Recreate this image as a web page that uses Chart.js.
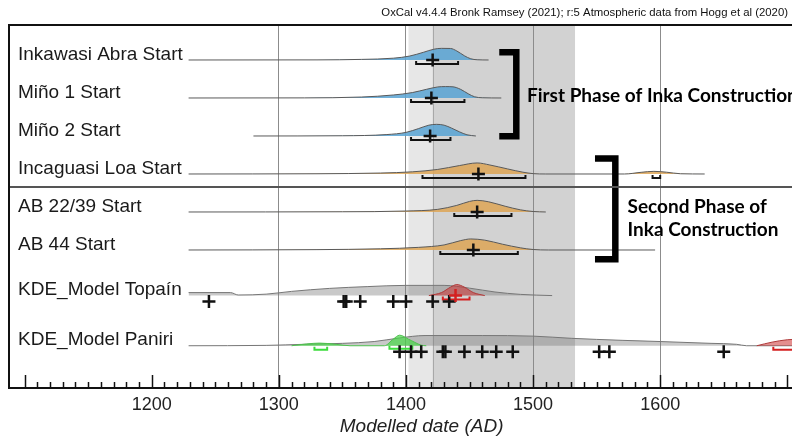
<!DOCTYPE html>
<html lang="en">
<head>
<meta charset="utf-8">
<script src="https://cdn.jsdelivr.net/npm/chart.js"></script>
<style>
  html, body { margin: 0; padding: 0; background: #fff; }
  #wrap { width: 792px; height: 436px; }
</style>
</head>
<body>
<div id="wrap"><canvas id="oxcalChart" width="792" height="436"></canvas></div>
<script>
  // --- data ---
  const rowLabels = ['Inkawasi Abra Start', 'Miño 1 Start', 'Miño 2 Start', 'Incaguasi Loa Start',
                     'AB 22/39 Start', 'AB 44 Start', 'KDE_Model Topaín', 'KDE_Model Paniri'];
  const tickYears = [1200, 1300, 1400, 1500, 1600];
  const gridYears = [1300, 1400, 1500, 1600];
  const bandOuter = [1402, 1533];
  const bandInner = [1421, 1533];

  // [year, relative density]
  const inkawasiAbra = [[1229,0],[1330,0.01],[1365,0.05],[1390,0.15],[1403,0.33],[1414,0.65],[1422,0.9],[1428,0.97],[1435,0.96],[1440,0.75],[1446,0.35],[1451,0.1],[1456,0.02],[1465,0]];
  const mino1 = [[1229,0],[1320,0.01],[1365,0.08],[1390,0.25],[1405,0.45],[1416,0.72],[1425,0.92],[1431,0.95],[1437,0.93],[1443,0.72],[1449,0.35],[1454,0.1],[1460,0.02],[1475,0]];
  const mino2 = [[1280,0],[1350,0.02],[1385,0.12],[1400,0.3],[1410,0.62],[1418,0.9],[1424,0.97],[1430,0.9],[1436,0.65],[1442,0.35],[1448,0.1],[1455,0]];
  const incaguasiLoa = [[1229,0],[1330,0.02],[1380,0.08],[1405,0.18],[1425,0.38],[1442,0.7],[1456,0.92],[1466,0.75],[1480,0.42],[1492,0.15],[1500,0.03],[1510,0],[1572,0],[1585,0.14],[1595,0.22],[1605,0.15],[1616,0.02],[1635,0]];
  const ab2239 = [[1229,0],[1350,0.02],[1400,0.08],[1425,0.22],[1440,0.55],[1450,0.88],[1456,0.97],[1465,0.85],[1478,0.48],[1490,0.18],[1500,0.04],[1510,0]];
  const ab44 = [[1229,0],[1330,0.03],[1380,0.1],[1410,0.22],[1430,0.42],[1443,0.78],[1451,0.92],[1462,0.82],[1476,0.48],[1490,0.18],[1500,0.04],[1512,0],[1596,0]];
  const topainKde = [[1229,0.25],[1262,0.25],[1268,0.05],[1290,0.12],[1310,0.35],[1340,0.6],[1370,0.75],[1400,0.85],[1430,0.85],[1450,0.62],[1470,0.3],[1490,0.1],[1515,0]];
  const topainRed = [[1418,0],[1428,0.25],[1435,0.7],[1440,0.92],[1446,0.7],[1453,0.25],[1462,0]];
  const paniriKde = [[1229,0],[1290,0.03],[1320,0.12],[1350,0.2],[1375,0.35],[1395,0.65],[1415,0.85],[1460,0.85],[1500,0.8],[1530,0.62],[1570,0.45],[1600,0.35],[1640,0.2],[1660,0.12],[1668,0],[1710,0]];
  const paniriGreen = [[1310,0],[1322,0.15],[1332,0.22],[1345,0.12],[1356,0],[1383,0],[1390,0.55],[1395,0.88],[1402,0.55],[1412,0.05],[1416,0]];
  const paniriRed = [[1676,0],[1688,0.3],[1700,0.5],[1710,0.55]];

  const startMedians = [1421, 1420, 1419, 1457, 1456, 1453];
  const rangeFrom = [1408, 1404, 1404, 1413, 1438, 1427];
  const rangeTo = [1441, 1446, 1435, 1494, 1483, 1488];
  const topainDates = [1245, 1351, 1353, 1364, 1390, 1400, 1421, 1434];
  const paniriDates = [1395, 1404, 1412, 1429, 1431, 1446, 1460, 1471, 1484, 1552, 1560, 1650];

  // --- layout (row positions in y units, one unit = one normal row) ---
  const rowPos = [0, 1, 2, 3, 4, 5, 6.2, 7.52];
  const peak = 0.316;      // height of density 1
  const barOff = 0.105;    // range bar below baseline
  const barTick = 0.08;
  const dateOff = 0.158;   // date crosses below the KDE line

  const blueFill = 'rgba(88,163,212,0.85)';
  const orangeFill = 'rgba(222,166,86,0.85)';
  const greyFill = 'rgba(120,120,120,0.4)';
  const redFill = 'rgba(205,50,50,0.55)';
  const greenFill = 'rgba(70,215,70,0.7)';

  function dist(points, row, fill, line, order) {
    return {
      type: 'line',
      data: points.map(p => ({ x: p[0], y: rowPos[row] - p[1] * peak })),
      backgroundColor: fill,
      borderColor: line,
      borderWidth: 1,
      fill: { value: rowPos[row] },
      pointRadius: 0,
      cubicInterpolationMode: 'monotone',
      order: order
    };
  }

  function rangeBar(a, b, row, color, off) {
    const yb = rowPos[row] + (off === undefined ? barOff : off);
    return {
      type: 'line',
      data: [{ x: a, y: yb - barTick }, { x: a, y: yb }, { x: b, y: yb }, { x: b, y: yb - barTick }],
      borderColor: color,
      borderWidth: 2,
      pointRadius: 0,
      fill: false,
      order: 1
    };
  }

  function crosses(pts, color, order) {
    return {
      type: 'scatter',
      data: pts,
      pointStyle: 'cross',
      pointRadius: 6.5,
      borderColor: color,
      borderWidth: 2.5,
      backgroundColor: color,
      order: order
    };
  }

  function bracket(x0, x1, y0, y1) {
    return {
      type: 'line',
      data: [{ x: x0, y: y0 }, { x: x1, y: y0 }, { x: x1, y: y1 }, { x: x0, y: y1 }],
      borderColor: '#000',
      borderWidth: 6.5,
      borderJoinStyle: 'miter',
      borderCapStyle: 'butt',
      pointRadius: 0,
      fill: false,
      order: 0
    };
  }

  const datasets = [];
  const starts = [inkawasiAbra, mino1, mino2, incaguasiLoa, ab2239, ab44];
  starts.forEach(function (d, i) {
    datasets.push(dist(d, i, i < 3 ? blueFill : orangeFill, '#5a5a5a', 3));
    datasets.push(rangeBar(rangeFrom[i], rangeTo[i], i, '#111'));
  });
  datasets.push(rangeBar(1594, 1600, 3, '#111'));
  datasets.push(crosses(startMedians.map((m, i) => ({ x: m, y: rowPos[i] })), '#111', 0));

  datasets.push(dist(topainKde, 6, greyFill, '#777', 4));
  datasets.push(dist(topainRed, 6, redFill, '#b03a3a', 3));
  datasets.push(rangeBar(1429, 1450, 6, '#d42020'));
  datasets.push(crosses([{ x: 1439, y: rowPos[6] }], '#d42020', 0));
  datasets.push(crosses(topainDates.map(v => ({ x: v, y: rowPos[6] + dateOff })), '#111', 0));

  datasets.push(dist(paniriKde, 7, greyFill, '#777', 4));
  datasets.push(dist(paniriGreen, 7, greenFill, '#4fc04f', 3));
  datasets.push(dist(paniriRed, 7, redFill, '#b03a3a', 3));
  datasets.push(rangeBar(1328, 1338, 7, '#3ddc3d'));
  datasets.push(rangeBar(1387, 1405, 7, '#3ddc3d', 0.08));
  datasets.push(rangeBar(1689, 1720, 7, '#d42020'));
  datasets.push(crosses(paniriDates.map(v => ({ x: v, y: rowPos[7] + dateOff })), '#111', 0));

  datasets.push(bracket(1473.4, 1486.8, -0.205, 2.008));
  datasets.push(bracket(1548.7, 1564.7, 2.592, 5.245));

  const fontFam = '"Liberation Sans", Arial, sans-serif';

  const oxcalDecor = {
    id: 'oxcalDecor',
    beforeDraw(chart) {
      const { ctx, chartArea: a, scales: { x } } = chart;
      ctx.save();
      ctx.fillStyle = '#fff';
      ctx.fillRect(0, 0, chart.width, chart.height);
      let x0 = x.getPixelForValue(bandOuter[0]), x1 = x.getPixelForValue(bandOuter[1]);
      ctx.fillStyle = '#e7e7e7';
      ctx.fillRect(x0, a.top, x1 - x0, a.bottom - a.top);
      x0 = x.getPixelForValue(bandInner[0]); x1 = x.getPixelForValue(bandInner[1]);
      ctx.fillStyle = '#d2d2d2';
      ctx.fillRect(x0, a.top, x1 - x0, a.bottom - a.top);
      ctx.strokeStyle = '#a8a8a8';
      ctx.lineWidth = 1;
      ctx.beginPath();
      ctx.moveTo(Math.round(x0) + 0.5, a.top);
      ctx.lineTo(Math.round(x0) + 0.5, a.bottom);
      ctx.stroke();
      ctx.restore();
    },
    afterDatasetsDraw(chart) {
      const { ctx, chartArea: a, scales: { x, y } } = chart;
      ctx.save();
      // separator between phases
      const ys = Math.round(y.getPixelForValue(3.355));
      ctx.strokeStyle = '#555';
      ctx.lineWidth = 2;
      ctx.beginPath();
      ctx.moveTo(a.left, ys);
      ctx.lineTo(chart.width, ys);
      ctx.stroke();

      // frame: left, top, axis
      ctx.strokeStyle = '#111';
      ctx.lineWidth = 2;
      ctx.beginPath();
      ctx.moveTo(chart.width, a.top);
      ctx.lineTo(a.left, a.top);
      ctx.lineTo(a.left, a.bottom);
      ctx.lineTo(chart.width, a.bottom);
      ctx.stroke();

      // tick marks pointing up
      ctx.lineWidth = 1.5;
      for (let yr = 1100; yr <= 1700; yr += 10) {
        const px = Math.round(x.getPixelForValue(yr)) + 0.5;
        const len = yr % 100 === 0 ? 13 : 6;
        ctx.beginPath();
        ctx.moveTo(px, a.bottom);
        ctx.lineTo(px, a.bottom - len);
        ctx.stroke();
      }

      // row labels
      ctx.fillStyle = '#1a1a1a';
      ctx.font = '19px ' + fontFam;
      ctx.textBaseline = 'middle';
      ctx.textAlign = 'left';
      rowLabels.forEach(function (t, i) {
        ctx.fillText(t, 18, y.getPixelForValue(rowPos[i]) - 5.5);
      });

      // phase labels
      ctx.fillStyle = '#000';
      ctx.font = 'bold 19px Lato, ' + fontFam;
      ctx.fillText('First Phase of Inka Construction', x.getPixelForValue(1495.2), y.getPixelForValue(0.947));
      ctx.fillText('Second Phase of', x.getPixelForValue(1574.3), y.getPixelForValue(3.868));
      ctx.fillText('Inka Construction', x.getPixelForValue(1574.3), y.getPixelForValue(4.474));

      // OxCal header
      const head = 'OxCal v4.4.4 Bronk Ramsey (2021); r:5 Atmospheric data from Hogg et al (2020)';
      ctx.font = '12px ' + fontFam;
      const size = 12 * 407 / ctx.measureText(head).width;
      ctx.font = size.toFixed(2) + 'px ' + fontFam;
      ctx.textAlign = 'right';
      ctx.fillStyle = '#111';
      ctx.fillText(head, 788, 13);
      ctx.restore();
    }
  };

  new Chart(document.getElementById('oxcalChart'), {
    type: 'scatter',
    data: { datasets: datasets },
    options: {
      responsive: false,
      animation: false,
      layout: { autoPadding: false, padding: { top: 25, left: 9, right: 0, bottom: 0 } },
      plugins: { legend: { display: false }, tooltip: { enabled: false } },
      scales: {
        x: {
          type: 'linear',
          min: 1087.7,
          max: 1703.7,
          afterBuildTicks: function (scale) { scale.ticks = tickYears.map(v => ({ value: v })); },
          afterFit: function (scale) { scale.height = 48; },
          ticks: {
            padding: 6.2,
            maxRotation: 0,
            autoSkip: false,
            color: '#222',
            font: { family: fontFam, size: 18 },
            callback: v => String(v)
          },
          grid: {
            drawTicks: false,
            lineWidth: 1,
            color: c => (c.tick && gridYears.includes(c.tick.value)) ? '#8c8c8c' : 'rgba(0,0,0,0)'
          },
          border: { display: false },
          title: {
            display: true,
            // leading spaces: the original axis is centred on a plot wider than the crop
            text: '\u00a0\u00a0\u00a0\u00a0\u00a0\u00a0\u00a0\u00a0Modelled date (AD)',
            color: '#222',
            font: { family: fontFam, size: 19, style: 'italic' },
            padding: { top: 0, bottom: -2 }
          }
        },
        y: {
          type: 'linear',
          display: false,
          reverse: true,
          min: -0.921,
          max: 8.632
        }
      }
    },
    plugins: [oxcalDecor]
  });
</script>
</body>
</html>
